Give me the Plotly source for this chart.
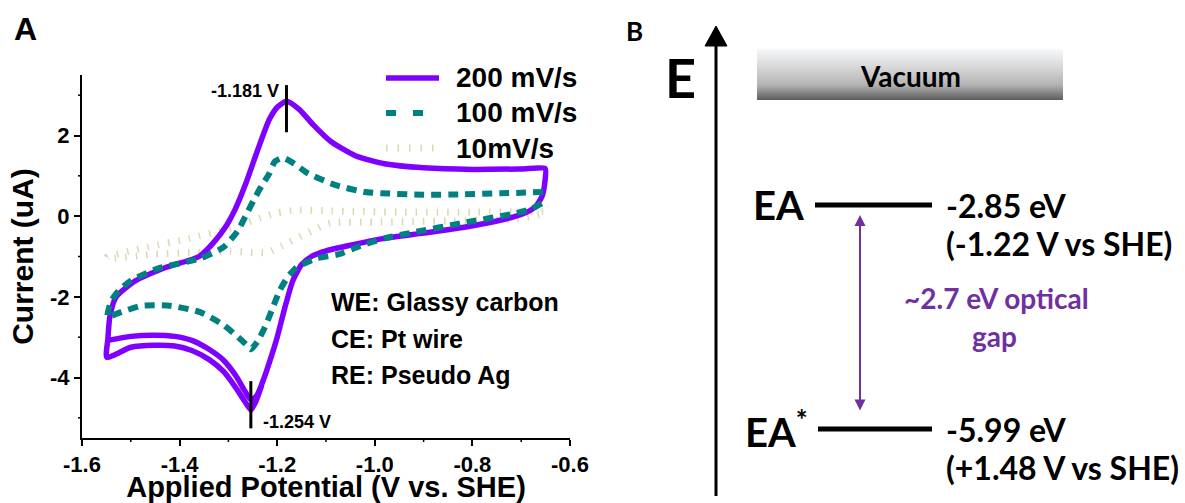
import plotly.graph_objects as go

# ---------------- Panel A: cyclic voltammograms ----------------
# 200 mV/s: cathodic sweep, anodic return, then the second cathodic sweep
v200 = [-1.547, -1.50, -1.452, -1.41, -1.375, -1.34, -1.31, -1.285, -1.268, -1.254,
        -1.242, -1.228, -1.214, -1.2, -1.185, -1.168, -1.15, -1.13, -1.10, -1.05,
        -0.98, -0.90, -0.82, -0.75, -0.70, -0.672, -0.657, -0.651, -0.651,
        -0.70, -0.80, -0.90, -0.98, -1.04, -1.09, -1.125, -1.155, -1.181, -1.20,
        -1.216, -1.24, -1.264, -1.285, -1.305, -1.33, -1.36, -1.43, -1.49, -1.53,
        -1.543, -1.547, -1.549, -1.50, -1.452, -1.41, -1.375, -1.34, -1.31, -1.285,
        -1.266, -1.254, -1.244, -1.232]
i200 = [-3.08, -2.98, -2.95, -2.98, -3.08, -3.3, -3.57, -3.95, -4.3, -4.55,
        -4.45, -4.05, -3.55, -3.0, -2.3, -1.6, -1.2, -1.0, -0.86, -0.72,
        -0.55, -0.42, -0.28, -0.12, 0.04, 0.22, 0.5, 0.9, 1.18,
        1.17, 1.16, 1.2, 1.3, 1.5, 1.85, 2.25, 2.65, 2.85, 2.7,
        2.4, 1.64, 0.82, 0.2, -0.25, -0.65, -1.0, -1.28, -1.6, -2.0,
        -2.5, -3.05, -3.5, -3.25, -3.2, -3.22, -3.33, -3.55, -3.85, -4.25,
        -4.6, -4.8, -4.6, -4.2]

# 100 mV/s: anodic branch (right to left), then cathodic branch (left to right)
v100 = [-0.655, -0.70, -0.743, -0.82, -0.90, -0.97, -1.02, -1.08, -1.137, -1.165,
        -1.188, -1.205, -1.216, -1.232, -1.248, -1.265, -1.28, -1.31, -1.358, -1.445,
        -1.50, -1.525, -1.54, -1.548, -1.54, -1.52, -1.477, -1.42, -1.358, -1.31,
        -1.28, -1.262, -1.254, -1.24, -1.225, -1.21, -1.195, -1.178, -1.16, -1.12,
        -1.075, -1.03, -0.98, -0.92, -0.82, -0.72, -0.68, -0.655]
i100 = [0.6, 0.58, 0.57, 0.54, 0.53, 0.56, 0.6, 0.77, 1.06, 1.3,
        1.45, 1.35, 1.06, 0.75, 0.4, 0.0, -0.35, -0.77, -1.05, -1.3,
        -1.6, -1.85, -2.1, -2.5, -2.47, -2.38, -2.22, -2.22, -2.38, -2.7,
        -3.0, -3.2, -3.3, -3.1, -2.75, -2.3, -1.85, -1.5, -1.27, -1.05,
        -0.95, -0.74, -0.55, -0.4, -0.17, 0.05, 0.18, 0.34]

# 10 mV/s: anodic branch (right to left), then cathodic branch (left to right)
v10 = [-0.655, -0.80, -0.95, -1.09, -1.16, -1.20, -1.229, -1.297, -1.379, -1.467,
       -1.549, -1.549, -1.46, -1.364, -1.297, -1.25, -1.22, -1.18, -1.127, -1.09,
       -1.0, -0.85, -0.72, -0.655]
i10 = [0.12, 0.1, 0.1, 0.13, 0.15, 0.08, -0.02, -0.3, -0.55, -0.77,
       -1.02, -1.05, -0.95, -0.9, -0.87, -0.9, -0.9, -0.67, -0.35, -0.17,
       -0.15, -0.12, -0.08, 0.05]

# Axis ticks
x_ticks = [-1.6, -1.4, -1.2, -1.0, -0.8, -0.6]
x_minor = [-1.5, -1.3, -1.1, -0.9, -0.7]
y_ticks = [-4, -2, 0, 2]
y_minor = [-5, -3, -1, 1, 3]

# Peak potentials marked on the 200 mV/s curve
ox_peak = -1.181
red_peak = -1.254
electrodes = ["WE: Glassy carbon", "CE: Pt wire", "RE: Pseudo Ag"]

# ---------------- Panel B: energy levels ----------------
EA = -2.85          # eV
EA_STAR = -5.99     # eV
EA_SHE = -1.22      # V vs SHE
EA_STAR_SHE = 1.48  # V vs SHE
OPT_GAP = 2.7       # eV

W, H = 1185, 503
AX_L, AX_R, AX_T, AX_B = 82, 570, 75, 438   # panel A plot area in pixels
ARIAL = "Liberation Sans, Arial, sans-serif"
CAL = "Lato, Carlito, Calibri, sans-serif"
PURPLE = "#7F00FF"
TEAL = "#008080"
BEIGE = "#DCD8B4"
GAP_PURPLE = "#7030A0"

series_styles = [
    ("200 mV/s", dict(color=PURPLE, width=5.5)),
    ("100 mV/s", dict(color=TEAL, width=6, dash="10px,7px")),
    ("10mV/s", dict(color=BEIGE, width=7, dash="1.5px,9px")),
]
style = dict(series_styles)

fig = go.Figure()
for name, v, i in [("10mV/s", v10, i10), ("200 mV/s", v200, i200), ("100 mV/s", v100, i100)]:
    fig.add_trace(go.Scatter(
        x=v, y=i, mode="lines", name=name, showlegend=False, hoverinfo="skip",
        line=dict(style[name], shape="spline", smoothing=0.6)))

ann = []

# Key: line samples and labels
for k, (name, st) in enumerate(series_styles):
    yk = 1 - (78 + 35 * k) / H
    sample = dict(st)
    if name == "100 mV/s":
        sample["dash"] = "10px,17px"
    if name == "10mV/s":
        sample["dash"] = "1.5px,10px"
    fig.add_shape(type="line", xref="paper", yref="paper", x0=386 / W, x1=439 / W, y0=yk, y1=yk,
                  line=sample)
    ann.append(dict(x=454 / W, y=yk, xref="paper", yref="paper", text=f"<b>{name}</b>",
                    showarrow=False, xanchor="left", yanchor="middle",
                    font=dict(family=ARIAL, size=28, color="black")))

# Minor ticks, drawn outside the axis lines
minor_len_y = 4 / (AX_B - AX_T)
minor_len_x = 4 / (AX_R - AX_L)
for v in x_minor:
    fig.add_shape(type="line", xref="x", yref="y domain", x0=v, x1=v, y0=0, y1=-minor_len_y,
                  line=dict(color="black", width=1.5))
for v in y_minor:
    fig.add_shape(type="line", xref="x domain", yref="y", x0=0, x1=-minor_len_x, y0=v, y1=v,
                  line=dict(color="black", width=1.5))

# Peak marker bars
fig.add_shape(type="line", xref="x", yref="y", x0=ox_peak, x1=ox_peak, y0=2.08, y1=3.25,
              line=dict(color="black", width=3))
fig.add_shape(type="line", xref="x", yref="y", x0=red_peak, x1=red_peak, y0=-5.26, y1=-4.09,
              line=dict(color="black", width=3))

ann.append(dict(x=ox_peak - 0.012, y=3.1, xref="x", yref="y", text=f"<b>{ox_peak:.3f} V</b>",
                showarrow=False, xanchor="right", yanchor="middle",
                font=dict(family=ARIAL, size=18, color="black")))
ann.append(dict(x=red_peak + 0.02, y=-5.11, xref="x", yref="y", text=f"<b>{red_peak:.3f} V</b>",
                showarrow=False, xanchor="left", yanchor="middle",
                font=dict(family=ARIAL, size=18, color="black")))
for k, txt in enumerate(electrodes):
    ann.append(dict(x=-1.094, y=-2.13 - 0.91 * k, xref="x", yref="y", text=f"<b>{txt}</b>",
                    showarrow=False, xanchor="left", yanchor="middle",
                    font=dict(family=ARIAL, size=25, color="black")))
ann.append(dict(x=25 / W, y=1 - 29 / H, xref="paper", yref="paper", text="<b>A</b>",
                showarrow=False, xanchor="center", yanchor="middle",
                font=dict(family=ARIAL, size=32, color="black")))

# ---------------- Panel B drawing (x2: pixel columns, y2: energy in eV, y3: pixel rows) ----------------
EA_ROW, EA_STAR_ROW = 205, 429
px_per_ev = (EA_STAR_ROW - EA_ROW) / (EA - EA_STAR)
ev_top = EA + EA_ROW / px_per_ev
ev_bottom = EA - (H - EA_ROW) / px_per_ev

# Vacuum bar with vertical grey gradient
fig.add_trace(go.Scatter(
    x=[757, 1063, 1063, 757, 757], y=[49, 49, 100, 100, 49], xaxis="x2", yaxis="y3",
    mode="lines", line=dict(width=0), fill="toself",
    fillgradient=dict(type="vertical", start=49, stop=100,
                      colorscale=[[0, "#f6f8fa"], [0.35, "#d8d8d8"], [0.7, "#b4b4b4"], [1, "#5c5c5c"]]),
    showlegend=False, hoverinfo="skip"))

# Energy levels
for lev, x0 in [(EA, 815), (EA_STAR, 818)]:
    fig.add_trace(go.Scatter(
        x=[x0, 932], y=[lev, lev], xaxis="x2", yaxis="y2", mode="lines",
        line=dict(color="black", width=5), showlegend=False, hoverinfo="skip"))

# Energy axis arrow
fig.add_shape(type="line", xref="x2", yref="y3", x0=716, x1=716, y0=496, y1=44,
              line=dict(color="black", width=3))
fig.add_shape(type="path", xref="x2", yref="y3", path="M 705 46 L 727 46 L 716 26 Z",
              fillcolor="black", line=dict(color="black", width=1))

# Optical gap double arrow
ann.append(dict(x=860, y=EA - 0.14, ax=860, ay=EA_STAR + 0.24, xref="x2", yref="y2",
                axref="x2", ayref="y2", text="", showarrow=True, arrowhead=2, startarrowhead=2,
                arrowside="end+start", arrowsize=1.1, startarrowsize=1.1, arrowwidth=2,
                arrowcolor=GAP_PURPLE))

def txt_b(x, y, text, size, color="black", xanchor="left", yref="y3"):
    ann.append(dict(x=x, y=y, xref="x2", yref=yref, text=f"<b>{text}</b>", showarrow=False,
                    xanchor=xanchor, yanchor="middle",
                    font=dict(family=CAL, size=size, color=color)))

txt_b(634, 31, "B", 26, xanchor="center")
txt_b(680, 77, "E", 54, xanchor="center")
txt_b(910, 76, "Vacuum", 28, xanchor="center")
txt_b(806, EA, "EA", 40, xanchor="right", yref="y2")
txt_b(810, EA_STAR, "EA<sup>*</sup>", 40, xanchor="right", yref="y2")
txt_b(944, EA, f"{EA:.2f} eV", 32, yref="y2")
txt_b(944, 243, f"({EA_SHE:+.2f} V vs SHE)".replace("+-", "-"), 32)
txt_b(944, EA_STAR, f"{EA_STAR:.2f} eV", 32, yref="y2")
txt_b(944, 467, f"({EA_STAR_SHE:+.2f} V vs SHE)", 32)
txt_b(996, 298, f"~{OPT_GAP} eV optical", 28, color=GAP_PURPLE, xanchor="center")
txt_b(994, 336, "gap", 28, color=GAP_PURPLE, xanchor="center")


def tick_text(vals, fmt):
    return [f"<b>{fmt.format(v)}</b>" for v in vals]


tickfont = dict(family=ARIAL, size=22, color="black")

fig.update_layout(
    width=W, height=H, margin=dict(l=0, r=0, t=0, b=0),
    paper_bgcolor="white", plot_bgcolor="rgba(0,0,0,0)",
    showlegend=False,
    xaxis=dict(domain=[AX_L / W, AX_R / W], range=[-1.6, -0.6], anchor="y",
               showline=True, linecolor="black", linewidth=2, showgrid=False, zeroline=False,
               ticks="outside", ticklen=6, tickwidth=2, tickcolor="black",
               tickmode="array", tickvals=x_ticks, ticktext=tick_text(x_ticks, "{:.1f}"),
               tickfont=tickfont, automargin=False,
               title=dict(text="<b>Applied Potential (V vs. SHE)</b>",
                          font=dict(family=ARIAL, size=29, color="black"), standoff=12)),
    yaxis=dict(domain=[1 - AX_B / H, 1 - AX_T / H], range=[-5.5, 3.5], anchor="x",
               showline=True, linecolor="black", linewidth=2, showgrid=False, zeroline=False,
               ticks="outside", ticklen=6, tickwidth=2, tickcolor="black",
               tickmode="array", tickvals=y_ticks, ticktext=tick_text(y_ticks, "{:d}"),
               tickfont=tickfont, automargin=False,
               title=dict(text="<b>Current (uA)</b>",
                          font=dict(family=ARIAL, size=30, color="black"), standoff=8)),
    xaxis2=dict(domain=[0, 1], range=[0, W], anchor="y2", visible=False, fixedrange=True),
    yaxis2=dict(domain=[0, 1], range=[ev_bottom, ev_top], anchor="x2", visible=False, fixedrange=True),
    yaxis3=dict(domain=[0, 1], range=[H, 0], anchor="x2", overlaying="y2", visible=False,
                fixedrange=True),
    annotations=ann,
)

fig.write_html("out.html")
